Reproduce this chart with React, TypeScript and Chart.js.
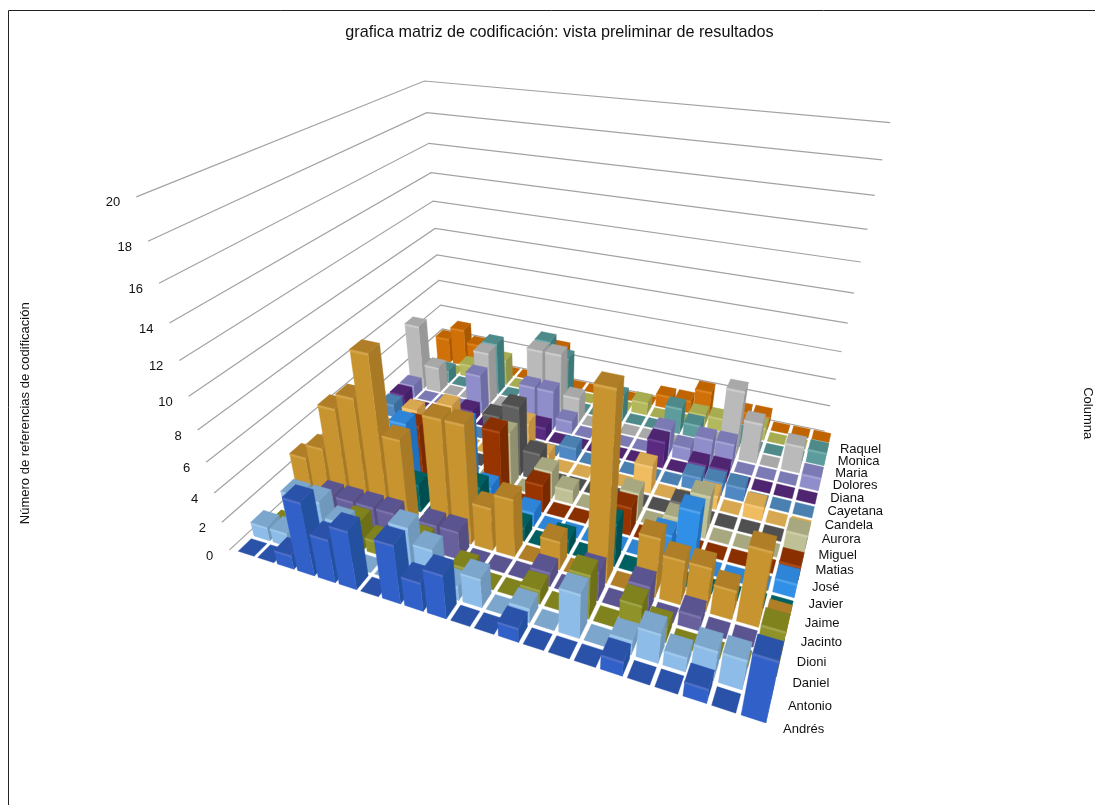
import React, { useEffect, useRef } from "react";
import { Chart, registerables } from "chart.js";

Chart.register(...registerables);

// Row names, front of the floor to back
const rowNames = ["Andrés", "Antonio", "Daniel", "Dioni", "Jacinto", "Jaime", "Javier", "José", "Matias", "Miguel", "Aurora", "Candela", "Cayetana", "Diana", "Dolores", "Maria", "Monica", "Raquel"];
const zTicks = [0, 2, 4, 6, 8, 10, 12, 14, 16, 18, 20];

// Coding reference counts per column
const andres = [0,0,1,5,3,4,0,4,2,3,0,0,1,0,0,0,1,0,0,1,0,4];
const antonio = [1,1,4,4,3,0,0,4,3,1,2,0,1,0,3,0,1,2,1,2,2,0];
const daniel = [0,0,0,0,2,1,0,2,0,1,0,0,1,0,3,0,2,1,0,0,0,3];
const dioni = [0,0,2,2,2,2,0,2,2,0,0,0,1,0,2,0,2,0,1,0,0,0];
const jacinto = [3,4,7,8,11,6,0,8,8,3,4,0,2,0,12,0,4,3,3,2,5,1];
const jaime = [0,0,0,0,0,2,0,0,3,0,1,0,1,0,3,0,0,0,0,0,0,0];
const javier = [0,0,0,0,5,0,0,6,2,0,1,0,0,0,0,0,2,4,0,0,0,1];
const jose = [0,0,0,0,4,0,0,0,5,0,2,0,0,0,2,0,0,0,0,0,0,1];
const matias = [0,0,0,0,0,0,0,0,4,0,2,1,0,0,2,0,1,3,0,0,0,2];
const miguel = [0,0,0,0,0,0,0,4,5,2,0,0,0,0,0,0,1,0,0,0,0,0];
const aurora = [0,0,2,1,3,0,0,0,3,1,0,0,0,0,2,0,0,1,0,1,0,0];
const candela = [1,0,0,0,0,0,0,0,0,0,1,0,0,0,0,0,1,1,1,0,0,0];
const cayetana = [1,0,0,0,1,0,0,1,1,0,0,0,0,0,2,0,1,1,0,0,0,0];
const diana = [1,0,0,0,3,0,0,3,3,1,0,0,0,0,2,1,2,2,0,0,0,1];
const dolores = [5,2,0,0,4,0,0,5,5,2,0,0,0,0,0,0,1,5,3,0,2,0];
const maria = [1,1,0,0,4,0,0,5,4,0,0,2,0,0,2,1,0,1,0,0,0,1];
const monica = [0,0,1,0,2,0,0,1,0,0,0,0,1,0,0,1,1,0,1,0,0,0];
const raquel = [2,3,2,2,0,0,0,3,0,0,1,0,0,1,1,2,0,1,1,0,0,0];
const rows = [andres, antonio, daniel, dioni, jacinto, jaime, javier, jose, matias, miguel, aurora, candela, cayetana, diana, dolores, maria, monica, raquel];

// Face colours per row
const topColors = ["#2A52A8","#7CA6CC","#80821E","#5A5490","#B07E26","#005F60","#2E85D8","#8A3000","#A8A880","#505050","#D8A850","#4A80B0","#4F2470","#7C7AB4","#A8A8A8","#4F8A8A","#A8AC50","#C06400"];
const frontColors = ["#3060C8","#8DBCE8","#8E9228","#68609C","#C8942F","#006A6C","#3090E8","#983400","#C0C096","#606060","#F0BC60","#5088C4","#5A2A80","#908ECA","#BABABA","#5C9C9C","#B4B85C","#D07008"];
const sideColors = ["#2450A0","#7098BC","#6E7018","#544E84","#A87A25","#004F50","#2070C0","#7A2A00","#909070","#484848","#C09040","#3A6C9C","#45206A","#6E6CA4","#989898","#3F7878","#90944A","#A85800"];
const bevelColors = ["#5070C8","#A0C8EC","#A0A448","#7C74AC","#D4A448","#208080","#50A4EC","#AC4C18","#CCCCA8","#747474","#F4C878","#6C9CCC","#704498","#A4A2D4","#CCCCCC","#78B0B0","#C4C878","#DC8420"];

const wallColor = "#A2A2A2";
const textColor = "#111111";
const fontFamily = "'Liberation Sans', Arial, sans-serif";

// Camera of the 3D view: floor corners and the point where verticals meet
const floorCorners = [[235, 552], [768, 726], [833, 433], [444, 352]];
const verticalVanish = [545, 1750];
const backTop = 81; // y of the level 20 line in the back corner
const tileGap = 0.09;
const NC = andres.length;
const NR = rows.length;

function squareToQuad(p: number[][]) {
  const [a, b, c, d] = p;
  const dx1 = b[0] - c[0], dx2 = d[0] - c[0], sx = a[0] - b[0] + c[0] - d[0];
  const dy1 = b[1] - c[1], dy2 = d[1] - c[1], sy = a[1] - b[1] + c[1] - d[1];
  const den = dx1 * dy2 - dx2 * dy1;
  const g = (sx * dy2 - dx2 * sy) / den, h = (dx1 * sy - sx * dy1) / den;
  return [b[0] - a[0] + g * b[0], d[0] - a[0] + h * d[0], a[0], b[1] - a[1] + g * b[1], d[1] - a[1] + h * d[1], a[1], g, h];
}
const H = squareToQuad(floorCorners);
const heightScale = ((H[7] + 1) * (backTop - floorCorners[3][1])) / (verticalVanish[1] - backTop) / 20;

// Column, row and height to a point on the chart's linear scales
function project(c: number, r: number, z: number) {
  const u = c / NC, v = r / NR, t = z * heightScale;
  const w = H[6] * u + H[7] * v + 1 + t;
  return {
    x: (H[0] * u + H[1] * v + H[2] + t * verticalVanish[0]) / w,
    y: (H[3] * u + H[4] * v + H[5] + t * verticalVanish[1]) / w,
  };
}

const polygon = (pts: { x: number; y: number }[], color: string) => ({
  data: [...pts, pts[0]], showLine: true, fill: "shape", backgroundColor: color, borderColor: color,
  borderWidth: 0.4, pointRadius: 0, clip: false,
});

function buildDatasets() {
  const out: any[] = [];
  zTicks.forEach((z) => {
    out.push({
      data: [project(-0.3, 0, z), project(0, NR, z), project(NC - 0.4, NR, z)], showLine: true, fill: false,
      borderColor: wallColor, borderWidth: 1.2, pointRadius: 0, clip: false,
    });
  });
  for (let r = NR - 1; r >= 0; r--) {
    for (let c = 0; c < NC; c++) {
      const h = rows[r][c];
      const c0 = c + tileGap, c1 = c + 1 - tileGap, r0 = r + tileGap, r1 = r + 1 - tileGap;
      if (h > 0) {
        out.push(polygon([project(c1, r0, 0), project(c1, r1, 0), project(c1, r1, h), project(c1, r0, h)], sideColors[r]));
        out.push(polygon([project(c0, r0, 0), project(c1, r0, 0), project(c1, r0, h), project(c0, r0, h)], frontColors[r]));
        out.push(polygon([project(c0, r0, h - 0.16), project(c1, r0, h - 0.16), project(c1, r0, h), project(c0, r0, h)], bevelColors[r]));
      }
      out.push(polygon([project(c0, r0, h), project(c1, r0, h), project(c1, r1, h), project(c0, r1, h)], topColors[r]));
    }
  }
  return out.reverse();
}

const pixelScales = {
  id: "pixelScales",
  afterLayout(chart: any) {
    const { x, y } = chart.scales;
    x.min = x.left; x.max = x.right; x.configure();
    y.min = y.top; y.max = y.bottom; y.configure();
  },
};

const frameAndLabels = {
  id: "frameAndLabels",
  beforeDraw(chart: any) {
    const ctx = chart.ctx;
    ctx.save();
    ctx.strokeStyle = "#222222";
    ctx.lineWidth = 1;
    ctx.beginPath();
    ctx.moveTo(8.5, 805); ctx.lineTo(8.5, 10.5); ctx.lineTo(1095, 10.5);
    ctx.stroke();
    ctx.restore();
  },
  afterDraw(chart: any) {
    const ctx = chart.ctx;
    ctx.save();
    ctx.fillStyle = textColor;
    ctx.font = `13px ${fontFamily}`;
    ctx.textBaseline = "middle";
    ctx.textAlign = "right";
    zTicks.forEach((z) => {
      const p = project(-0.3, 0, z);
      ctx.fillText(String(z), p.x - 16, p.y + 6);
    });
    ctx.textAlign = "left";
    rowNames.forEach((name, r) => {
      const p = project(NC + 0.5, r + 0.35, 0);
      ctx.fillText(name, p.x - 2, p.y + 7.5);
    });
    ctx.restore();
  },
};

export default function App() {
  const ref = useRef<HTMLCanvasElement>(null);
  useEffect(() => {
    document.body.style.margin = "0";
    const hiddenAxis = { ticks: { display: false }, grid: { display: false }, border: { display: false } };
    const axisTitle = (text: string, padding: number) => ({ display: true, text, color: textColor, padding, font: { size: 13, family: fontFamily } });
    const chart = new Chart(ref.current!, {
      type: "scatter",
      data: { datasets: buildDatasets() },
      options: {
        animation: false, responsive: false, events: [],
        layout: { padding: { left: 12, right: 0, top: 0, bottom: 31 } },
        plugins: {
          legend: { display: false },
          tooltip: { enabled: false },
          title: {
            display: true, fullSize: false, text: "grafica matriz de codificación: vista preliminar de resultados",
            color: textColor, font: { size: 16.2, weight: "normal", family: fontFamily }, padding: { top: 23, bottom: 10 },
          },
        },
        scales: {
          x: { type: "linear", display: false },
          y: { type: "linear", reverse: true, position: "left", ...hiddenAxis, title: axisTitle("Número de referencias de codificación", 6) },
          yRight: { type: "linear", position: "right", ...hiddenAxis, title: axisTitle("Columna", 0) },
        },
      } as any,
      plugins: [pixelScales, frameAndLabels] as any,
    });
    return () => chart.destroy();
  }, []);
  return <canvas ref={ref} width={1095} height={805} style={{ display: "block" }} />;
}
